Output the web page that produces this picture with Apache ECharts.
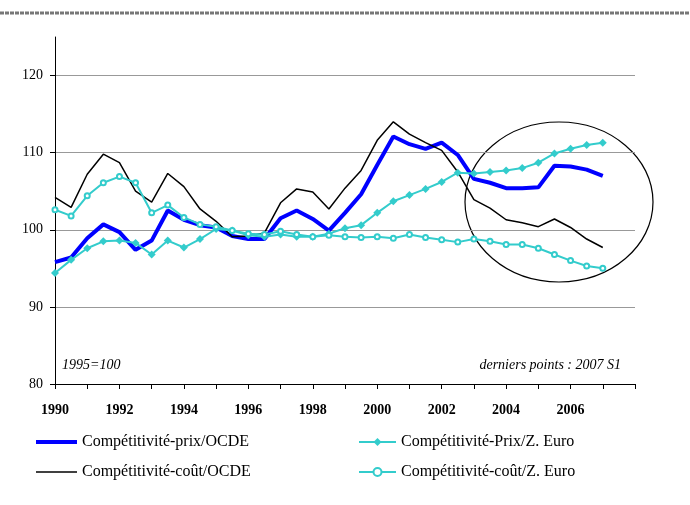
<!DOCTYPE html>
<html>
<head>
<meta charset="utf-8">
<script src="https://cdn.jsdelivr.net/npm/echarts@6/dist/echarts.min.js"></script>
<style>
  html, body { margin: 0; padding: 0; background: #fff; }
  #chart { width: 690px; height: 505px; }
</style>
</head>
<body>
<div id="chart"></div>
<script>
// semesters 1990 S1 .. 2008 S1
const semesters = [];
for (let y = 1990; y <= 2008; y++) {
    semesters.push(y + ' S1');
    if (y < 2008) semesters.push(y + ' S2');
}

const prixOcde = [95.8, 96.4, 98.9, 100.7, 99.7, 97.4, 98.6, 102.5, 101.3, 100.6, 100.3, 99.2, 98.8, 98.8, 101.5, 102.5, 101.4, 99.9, 102.2, 104.6, 108.4, 112.1, 111.1, 110.5, 111.3, 109.7, 106.6, 106.1, 105.4, 105.4, 105.5, 108.3, 108.2, 107.8, 107.0];
const coutOcde = [104.2, 102.9, 107.2, 109.8, 108.7, 105.0, 103.6, 107.3, 105.6, 102.7, 101.1, 99.1, 99.2, 99.6, 103.5, 105.3, 104.9, 102.7, 105.4, 107.7, 111.6, 114.0, 112.4, 111.3, 110.3, 107.5, 103.9, 102.8, 101.3, 100.9, 100.4, 101.4, 100.3, 98.8, 97.7];
const prixEuro = [94.4, 96.1, 97.6, 98.5, 98.6, 98.3, 96.8, 98.6, 97.7, 98.8, 100.1, 99.9, 99.3, 99.1, 99.4, 99.1, 99.1, 99.5, 100.2, 100.6, 102.2, 103.7, 104.5, 105.3, 106.2, 107.4, 107.3, 107.5, 107.7, 108.0, 108.7, 109.9, 110.5, 111.0, 111.3];
const coutEuro = [102.6, 101.8, 104.4, 106.1, 106.9, 106.1, 102.2, 103.2, 101.6, 100.7, 100.4, 99.9, 99.5, 99.4, 99.8, 99.4, 99.1, 99.3, 99.1, 99.0, 99.1, 98.9, 99.4, 99.0, 98.7, 98.4, 98.8, 98.5, 98.1, 98.1, 97.6, 96.8, 96.0, 95.3, 95.0];

const serif = '"Liberation Serif", "Times New Roman", serif';
const cyan = '#33CCCC';

var chart = echarts.init(document.getElementById('chart'));
chart.setOption({
    backgroundColor: '#fff',
    animation: false,
    textStyle: { fontFamily: serif, color: '#000' },
    grid: { left: 55, right: 55, top: 37, bottom: 121 },
    xAxis: {
        type: 'category',
        data: semesters,
        boundaryGap: false,
        axisLine: { lineStyle: { color: '#000', width: 1 } },
        axisTick: { interval: 1, length: 5, lineStyle: { color: '#000' } },
        axisLabel: {
            interval: 3,
            margin: 19,
            fontFamily: serif,
            fontSize: 14,
            fontWeight: 'bold',
            color: '#000',
            formatter: function (v) {
                var y = parseInt(v);
                return y < 2008 ? String(y) : '';
            }
        },
        splitLine: { show: false }
    },
    yAxis: {
        type: 'value',
        min: 80,
        max: 125,
        interval: 10,
        axisLine: { show: true, lineStyle: { color: '#000', width: 1 } },
        axisTick: { show: true, length: 5, lineStyle: { color: '#000' } },
        axisLabel: {
            margin: 12,
            fontFamily: serif,
            fontSize: 14,
            color: '#000',
            showMaxLabel: false,
            formatter: function (v) { return v > 120 ? '' : v; }
        },
        splitLine: { show: true, showMaxLine: false, lineStyle: { color: '#999', width: 1 } }
    },
    legend: [{
        orient: 'vertical',
        left: 31,
        top: 429,
        itemWidth: 41,
        itemHeight: 16,
        itemGap: 14,
        textStyle: { fontFamily: serif, fontSize: 16, color: '#000' },
        data: [
            { name: 'Compétitivité-prix/OCDE', icon: 'path://M0,0 L40,0 L40,4 L0,4 Z' },
            { name: 'Compétitivité-coût/OCDE', icon: 'path://M0,0 L40,0 L40,1.5 L0,1.5 Z' }
        ]
    }, {
        orient: 'vertical',
        left: 353,
        top: 429,
        itemWidth: 37,
        itemHeight: 10,
        itemGap: 14,
        textStyle: { fontFamily: serif, fontSize: 16, color: '#000' },
        data: ['Compétitivité-Prix/Z. Euro', 'Compétitivité-coût/Z. Euro']
    }],
    series: [{
        name: 'Compétitivité-prix/OCDE',
        type: 'line',
        data: prixOcde,
        symbol: 'none',
        color: '#0000FF',
        lineStyle: { width: 4, color: '#0000FF' }
    }, {
        name: 'Compétitivité-coût/OCDE',
        type: 'line',
        data: coutOcde,
        symbol: 'none',
        color: '#000',
        lineStyle: { width: 1.5, color: '#000' }
    }, {
        name: 'Compétitivité-Prix/Z. Euro',
        type: 'line',
        data: prixEuro,
        symbol: 'diamond',
        symbolSize: 8,
        color: cyan,
        lineStyle: { width: 2, color: cyan },
        itemStyle: { color: cyan }
    }, {
        name: 'Compétitivité-coût/Z. Euro',
        type: 'line',
        data: coutEuro,
        symbol: 'emptyCircle',
        symbolSize: 5,
        color: cyan,
        lineStyle: { width: 2, color: cyan },
        itemStyle: { color: cyan, borderWidth: 1.5 }
    }],
    graphic: [{
        type: 'line',
        shape: { x1: 0, y1: 13, x2: 690, y2: 13 },
        style: { stroke: '#777', lineWidth: 3, lineDash: [4, 1] }
    }, {
        type: 'ellipse',
        shape: { cx: 559, cy: 202, rx: 94, ry: 80 },
        style: { fill: 'none', stroke: '#000', lineWidth: 1.2 }
    }, {
        type: 'text',
        left: 62,
        top: 358,
        style: { text: '1995=100', font: 'italic 14px ' + serif, fill: '#000' }
    }, {
        type: 'text',
        right: 69,
        top: 358,
        style: { text: 'derniers points : 2007 S1', font: 'italic 14px ' + serif, fill: '#000' }
    }]
});
</script>
</body>
</html>
